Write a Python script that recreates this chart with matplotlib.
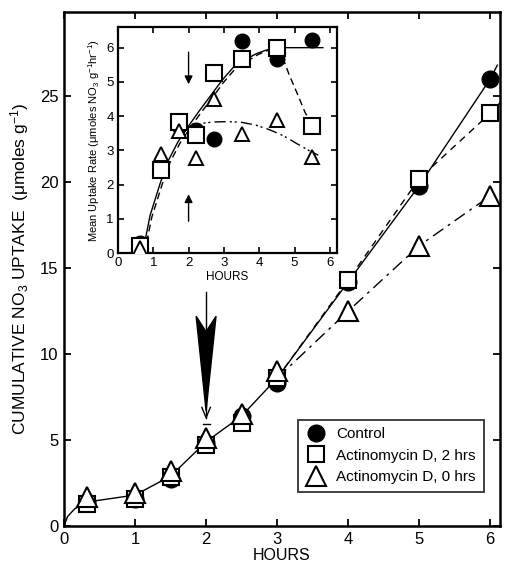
import matplotlib
matplotlib.use("Agg")
import matplotlib.pyplot as plt
import numpy as np

plt.rcParams['font.family'] = ['Liberation Sans', 'DejaVu Sans']
plt.rcParams['mathtext.fontset'] = 'custom'
plt.rcParams['mathtext.rm'] = 'Liberation Sans'
plt.rcParams['mathtext.it'] = 'Liberation Sans'

# ---------------- main panel data ----------------
hours = [0.33, 1, 1.5, 2, 2.5, 3, 4, 5, 6]
control = [1.4, 1.55, 2.75, 4.8, 6.4, 8.3, 14.2, 19.8, 26.0]
actD_2h = [1.3, 1.6, 2.85, 4.7, 6.0, 8.6, 14.3, 20.2, 24.0]
actD_0h = [1.7, 1.9, 3.2, 5.1, 6.5, 9.0, 12.5, 16.3, 19.2]

# hand-drawn fitted lines (main)
fit_common_x = [0, 0.05, 0.15, 0.33, 1, 1.5, 2, 2.5, 3]
fit_common_y = [0, 0.55, 1.0, 1.4, 1.8, 2.9, 4.9, 6.4, 8.6]
fit_ctrl_x = [3, 4, 5, 6, 6.1]
fit_ctrl_y = [8.6, 14.2, 19.8, 26.0, 26.8]
fit_2h_x = [3, 4, 5, 6, 6.18]
fit_2h_y = [8.6, 14.3, 20.2, 24.0, 24.8]
fit_0h_x = [3, 4, 5, 6, 6.1]
fit_0h_y = [8.6, 12.5, 16.3, 19.2, 19.5]

# ---------------- inset data ----------------
in_hours = [0.62, 1.22, 1.72, 2.21, 2.73, 3.5, 4.5, 5.49]
in_control = [0.3, 2.45, 3.7, 3.6, 3.32, 6.2, 5.68, 6.21]
in_actD_2h = [0.22, 2.42, 3.84, 3.44, 5.27, 5.68, 6.0, 3.7]
in_actD_0h = [0.15, 2.9, 3.58, 2.78, 4.5, 3.47, 3.88, 2.82]

in_fit_ctrl_x = [0.7, 0.91, 1.2, 1.43, 1.7, 1.99, 2.3, 2.61, 2.95, 3.27, 3.6, 3.93, 4.2, 4.5, 5.0, 5.8]
in_fit_ctrl_y = [0.0, 1.1, 2.05, 2.71, 3.25, 3.7, 4.15, 4.58, 5.05, 5.43, 5.65, 5.83, 5.93, 6.0, 6.0, 6.0]
in_fit_2h_x = [0.75, 0.96, 1.25, 1.48, 1.75, 2.04, 2.35, 2.66, 3.0, 3.32, 3.65, 3.97, 4.25, 4.5, 4.65, 4.85, 5.1, 5.3, 5.45]
in_fit_2h_y = [0.0, 1.05, 2.0, 2.66, 3.2, 3.65, 4.1, 4.52, 5.0, 5.38, 5.6, 5.8, 5.92, 5.98, 5.75, 5.2, 4.6, 4.1, 3.85]
in_fit_0h_x = [2.0, 2.3, 2.7, 3.1, 3.5, 3.9, 4.3, 4.7, 5.06, 5.4, 5.67]
in_fit_0h_y = [3.7, 3.78, 3.83, 3.84, 3.82, 3.74, 3.6, 3.42, 3.2, 3.0, 2.86]

treat_time = 2

fig = plt.figure(figsize=(5.06, 5.65), dpi=100)
ax = fig.add_axes([0.1265, 0.069, 0.862, 0.910])

lw = 1.0
ax.plot(fit_common_x, fit_common_y, color='black', lw=lw, zorder=2)
ax.plot(fit_ctrl_x, fit_ctrl_y, color='black', lw=lw, zorder=2)
ax.plot(fit_2h_x, fit_2h_y, color='black', lw=lw, ls=(0, (5, 4)), zorder=2)
ax.plot(fit_0h_x, fit_0h_y, color='black', lw=lw, ls=(0, (9, 4, 2, 4)), zorder=2)

ax.plot(hours, control, 'o', ms=12, mfc='black', mec='black', ls='none', zorder=3, label='Control')
ax.plot(hours, actD_2h, 's', ms=11, mfc='white', mec='black', mew=1.5, ls='none', zorder=4, label='Actinomycin D, 2 hrs')
ax.plot(hours, actD_0h, '^', ms=14, mfc='white', mec='black', mew=1.5, ls='none', zorder=5, label='Actinomycin D, 0 hrs')

# big black arrow at treatment time
ax.plot([treat_time, treat_time], [13.6, 6.3], color='black', lw=1.0, zorder=3)
ax.fill([treat_time - 0.14, treat_time, treat_time + 0.14, treat_time],
        [12.2, 11.3, 12.2, 6.7], color='black', zorder=3)
ax.plot([treat_time - 0.06, treat_time, treat_time + 0.06], [6.9, 6.3, 6.9], color='black', lw=1.0, zorder=3)
ax.plot([treat_time - 0.05, treat_time + 0.05], [5.95, 5.95], color='black', lw=1.0, zorder=3)

ax.set_xlim(0, 6.14)
ax.set_ylim(0, 29.9)
ax.set_xticks(range(0, 7))
ax.set_yticks(range(0, 30, 5))
ax.tick_params(direction='in', length=5, width=1.3, labelsize=12, top=True, right=True, pad=4)
for s in ax.spines.values():
    s.set_linewidth(1.8)
ax.set_xlabel('HOURS', fontsize=11.5, labelpad=1)
ax.set_ylabel('CUMULATIVE NO$_3$ UPTAKE  (μmoles g$^{-1}$)', fontsize=12.5, labelpad=6)

leg = ax.legend(loc='lower right', bbox_to_anchor=(0.962, 0.066), fontsize=11, frameon=True,
                fancybox=False, edgecolor='black', borderpad=0.5, labelspacing=0.5,
                handletextpad=0.7, handlelength=1.3, borderaxespad=0)
leg.get_frame().set_linewidth(1.3)

# ---------------- inset ----------------
ai = fig.add_axes([0.233, 0.552, 0.433, 0.400])
ai.set_facecolor('white')
ai.plot(in_fit_ctrl_x, in_fit_ctrl_y, color='black', lw=1.0, zorder=2)
ai.plot(in_fit_2h_x, in_fit_2h_y, color='black', lw=1.0, ls=(0, (5, 3)), zorder=2)
ai.plot(in_fit_0h_x, in_fit_0h_y, color='black', lw=1.0, ls=(0, (8, 3, 1.5, 2, 1.5, 3)), zorder=2)
ai.plot(in_hours, in_control, 'o', ms=10.5, mfc='black', mec='black', ls='none', zorder=3)
ai.plot(in_hours, in_actD_2h, 's', ms=11, mfc='white', mec='black', mew=1.5, ls='none', zorder=4)
ai.plot(in_hours, in_actD_0h, '^', ms=10, mfc='white', mec='black', mew=1.4, ls='none', zorder=5)

ai.annotate('', xy=(treat_time, 4.85), xytext=(treat_time, 5.95),
            arrowprops=dict(arrowstyle='-|>', color='black', lw=1.0, mutation_scale=12))
ai.annotate('', xy=(treat_time, 1.8), xytext=(treat_time, 0.85),
            arrowprops=dict(arrowstyle='-|>', color='black', lw=1.0, mutation_scale=12))

ai.set_xlim(0, 6.2)
ai.set_ylim(0, 6.6)
ai.set_xticks(range(0, 7))
ai.set_yticks(range(0, 7))
ai.tick_params(direction='in', length=4, width=1.2, labelsize=9.5, top=True, right=True, pad=3)
for s in ai.spines.values():
    s.set_linewidth(1.6)
ai.set_xlabel('HOURS', fontsize=8.5, labelpad=1)
ai.set_ylabel('Mean Uptake Rate (μmoles NO$_3$ g$^{-1}$hr$^{-1}$)', fontsize=8, labelpad=3)

fig.savefig('out.png', dpi=100)
